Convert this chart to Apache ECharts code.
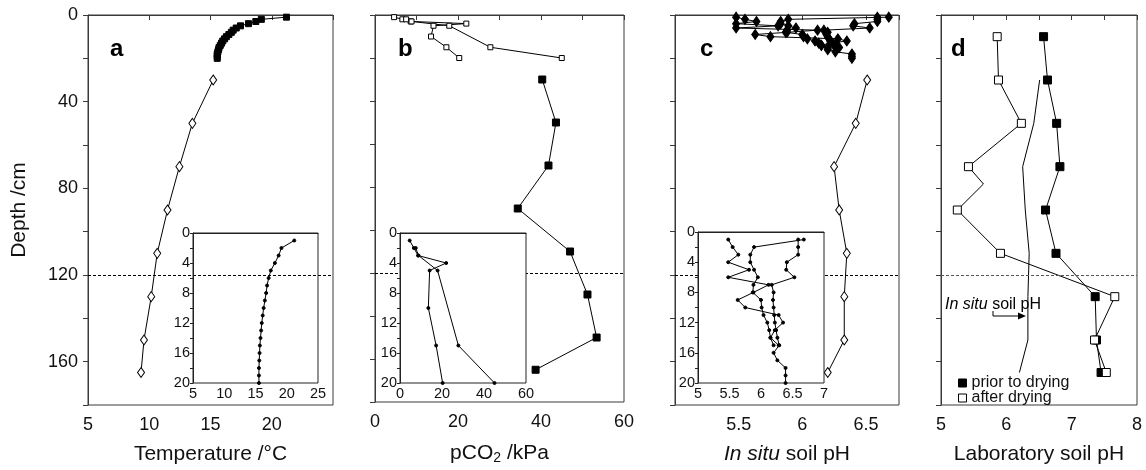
<!DOCTYPE html>
<html><head><meta charset="utf-8">
<script src="https://cdn.jsdelivr.net/npm/echarts@6/dist/echarts.min.js"></script>
<style>html,body{margin:0;padding:0;background:#fff}#c{width:1146px;height:470px}</style>
</head><body><div id="c"></div>
<script>
// ---------- data ----------
const depthTop = [1,2,3,4,5,6,7,8,9,10,11,12,13,14,15,16,17,18,19,20];
const tempTop = [21.2,19.15,18.7,18.1,17.45,17.1,16.85,16.7,16.5,16.3,16.15,16.0,15.9,15.8,15.7,15.65,15.6,15.55,15.55,15.55];
const depthDeep = [30,50,70,90,110,130,150,165];
const tempDeep = [15.22,13.52,12.46,11.49,10.65,10.16,9.57,9.33];

const pco2Deep = [40.3,43.6,41.8,34.4,47.0,51.2,53.4,38.7];
const pco2DepthA = [1,2,3,4,5,10,15,20];
const pco2A = [4.6,6.6,8.6,22.0,14.1,13.5,17.2,20.3];
const pco2DepthB = [2,3,5,15,20];
const pco2B = [7.5,8.8,17.9,27.8,45.0];

const phDepthAB = [1,2,3,4,5,6,7,8,9,10,11,12,13,14,15];
const phTopA = [5.48,5.55,5.64,5.48,5.81,5.48,6.12,5.88,5.63,5.75,6.28,6.35,6.22,6.15,6.20];
const phTopB = [6.68,5.89,5.83,5.83,5.89,5.95,5.88,5.87,6.00,6.01,6.04,6.10,6.13,6.15,6.28];
const phDepthC = [1,2,3,4,5,6,7,8,9,10,11,12,13,14,15,16,17,18,19,20];
const phTopC = [6.59,6.59,6.59,6.41,6.40,6.53,6.17,6.20,6.19,6.20,6.21,6.22,6.24,6.26,6.29,6.20,6.26,6.39,6.39,6.39];
const phDeep = [6.51,6.42,6.25,6.29,6.35,6.33,6.33,6.20];

const labDepth = [10,30,50,70,90,110,130,150,165];
const labPrior = [6.57,6.63,6.77,6.82,6.60,6.76,7.36,7.38,7.45];
const labAfterDepth = [10,30,50,70,78,90,110,130,150,165];
const labAfter = [5.86,5.88,6.23,5.42,5.65,5.25,5.91,7.66,7.35,7.53];
const labAfterNoMarker = [78];

const refDepth = 120;
const xTitles = ['Temperature /°C', '{n|pCO}{s|2}{n| /kPa}', '{i|In situ}{n| soil pH}', 'Laboratory soil pH'];
const yTitle = 'Depth /cm';
const panelLetters = ['a','b','c','d'];

// ---------- helpers ----------
const F = '"Liberation Sans", Arial, Helvetica, sans-serif';
const AX = '#3a3a3a';
const pairs = (xs, ys) => xs.map((x, i) => [x, ys[i]]);
const isMult = (v, m) => Math.abs(v / m - Math.round(v / m)) < 1e-6;

const mainTop = 15, mainH = 392;
const grids = [
  {left: 88, top: mainTop, width: 245, height: mainH},
  {left: 375, top: mainTop, width: 249, height: mainH},
  {left: 675, top: mainTop, width: 224, height: mainH},
  {left: 941, top: mainTop, width: 196, height: mainH},
  {left: 193, top: 233, width: 125, height: 150, z: 1},
  {left: 400, top: 233, width: 126, height: 150, z: 8},
  {left: 698, top: 232, width: 126, height: 151, z: 8}
].map((g, i) => Object.assign({
  show: true, containLabel: false,
  borderColor: i < 4 ? AX : '#222', borderWidth: 1,
  backgroundColor: i < 4 ? 'transparent' : '#fff'
}, g));

const TF = 18, NF = 21, IF = 14.5;
function mainX(gi, min, max, interval, fmt, name, minor) {
  return {
    type: 'value', gridIndex: gi, min, max, interval, position: 'bottom',
    axisLine: {show: true, lineStyle: {color: AX, width: 1}},
    axisTick: {show: true, inside: false, length: 5, lineStyle: {color: AX, width: 1}},
    minorTick: {show: !!minor, splitNumber: 2, length: 5, lineStyle: {color: AX, width: 1}},
    splitLine: {show: false},
    axisLabel: {fontSize: TF, fontFamily: F, color: '#111', margin: 11, formatter: fmt,
      showMinLabel: true, showMaxLabel: true},
    name, nameLocation: 'middle', nameGap: 39,
    nameTextStyle: {fontSize: NF, fontFamily: F, color: '#111',
      rich: {n: {fontSize: NF, fontFamily: F, color: '#111'},
             s: {fontSize: 14, fontFamily: F, color: '#111', padding: [10, 0, 0, 0]},
             i: {fontSize: NF, fontFamily: F, color: '#111', fontStyle: 'italic'}}}
  };
}
function mainY(gi, showLabels) {
  return {
    type: 'value', gridIndex: gi, min: 0, max: 180, interval: 20, inverse: true,
    axisLine: {show: true, lineStyle: {color: AX, width: 1}},
    axisTick: {show: true, inside: false, length: 5, lineStyle: {color: AX, width: 1}},
    splitLine: {show: false},
    axisLabel: {show: showLabels, fontSize: TF, fontFamily: F, color: '#111', margin: 10,
      formatter: v => isMult(v, 40) ? String(v) : ''},
    name: showLabels ? yTitle : '', nameLocation: 'middle', nameGap: 58,
    nameTextStyle: {fontSize: NF, fontFamily: F, color: '#111'}
  };
}
function insetX(gi, min, max, interval) {
  return {
    type: 'value', gridIndex: gi, min, max, interval, z: 9,
    axisLine: {show: true, lineStyle: {color: '#222', width: 1}},
    axisTick: {show: false},
    splitLine: {show: false},
    axisLabel: {fontSize: IF, fontFamily: F, color: '#111', margin: 3, formatter: v => String(v)}
  };
}
function insetY(gi) {
  return {
    type: 'value', gridIndex: gi, min: 0, max: 20, interval: 2, inverse: true, z: 9,
    axisLine: {show: true, lineStyle: {color: '#222', width: 1}},
    axisTick: {show: true, inside: false, length: 3, lineStyle: {color: '#222', width: 1}},
    splitLine: {show: false},
    axisLabel: {fontSize: IF, fontFamily: F, color: '#111', margin: 3,
      formatter: v => isMult(v, 4) ? String(v) : ''}
  };
}

const xAxes = [
  mainX(0, 5, 25, 5, v => v >= 25 ? '' : String(v), xTitles[0], false),
  mainX(1, 0, 60, 20, v => String(v), xTitles[1], true),
  mainX(2, 5, 6.76, 0.5, v => (v <= 5 || !isMult(v, 0.5)) ? '' : String(v), xTitles[2], false),
  mainX(3, 5, 8, 1, v => String(v), xTitles[3], true),
  insetX(4, 5, 25, 5),
  insetX(5, 0, 60, 20),
  insetX(6, 5, 7, 0.5)
];
const yAxes = [mainY(0, true), mainY(1, false), mainY(2, false), mainY(3, false), insetY(4), insetY(5), insetY(6)];

const BL = '#000';
function refLine(color) {
  return {silent: true, symbol: ['none', 'none'], label: {show: false},
    lineStyle: {type: [3, 2], color, width: 1}, data: [{yAxis: refDepth}]};
}
function ln(gi, data, symbol, size, fill, extra) {
  return Object.assign({
    type: 'line', xAxisIndex: gi, yAxisIndex: gi, data, symbol, symbolSize: size,
    showSymbol: true, animation: false,
    lineStyle: {color: BL, width: 1},
    itemStyle: {color: fill, borderColor: BL, borderWidth: 1},
    emphasis: {disabled: true}
  }, extra || {});
}
const inset = {z: 10};

const series = [
  ln(0, pairs(tempTop, depthTop), 'rect', 6, BL),
  ln(0, pairs(tempDeep, depthDeep), 'diamond', [7, 10], '#fff', {markLine: refLine('#000')}),
  ln(1, pairs(pco2Deep, depthDeep), 'rect', 7, BL, {markLine: refLine('#000')}),
  ln(1, pairs(pco2A, pco2DepthA), 'rect', 5, '#fff'),
  ln(1, pairs(pco2B, pco2DepthB), 'rect', 5, '#fff'),
  ln(2, pairs(phDeep, depthDeep), 'diamond', [7, 10], '#fff', {markLine: refLine('#000')}),
  ln(2, pairs(phTopA, phDepthAB), 'diamond', [7, 10], BL),
  ln(2, pairs(phTopB, phDepthAB), 'diamond', [7, 10], BL),
  ln(2, pairs(phTopC, phDepthC), 'diamond', [7, 10], BL),
  ln(3, pairs(labPrior, labDepth), 'rect', 8, BL, {name: 'prior to drying', markLine: refLine('#555')}),
  ln(3, pairs(labAfter, labAfterDepth).map(p => labAfterNoMarker.includes(p[1]) ? {value: p, symbol: 'none'} : p),
     'rect', 8, '#fff', {name: 'after drying'}),
  ln(3, pairs(phDeep, depthDeep), 'none', 0, BL),
  ln(4, pairs(tempTop, depthTop), 'circle', 3, BL, inset),
  ln(5, pairs(pco2A, pco2DepthA), 'circle', 3, BL, inset),
  ln(5, pairs(pco2B, pco2DepthB), 'circle', 3, BL, inset),
  ln(6, pairs(phTopA, phDepthAB), 'circle', 3, BL, inset),
  ln(6, pairs(phTopB, phDepthAB), 'circle', 3, BL, inset),
  ln(6, pairs(phTopC, phDepthC), 'circle', 3, BL, inset)
];

const letterPos = [110, 398, 700, 951];
const graphic = panelLetters.map((t, i) => ({
  type: 'text', left: letterPos[i], top: 37, z: 20,
  style: {text: t, font: 'bold 24px ' + F, fill: '#000'}
}));
graphic.push({
  type: 'text', x: 945, y: 305, z: 20,
  style: {text: '{i|In situ}{n| soil pH}', verticalAlign: 'middle',
    rich: {i: {fontStyle: 'italic', fontSize: 16, fontFamily: F, fill: '#000'},
           n: {fontSize: 16, fontFamily: F, fill: '#000'}}}
});
graphic.push({type: 'polyline', z: 20, shape: {points: [[993, 311], [993, 316], [1019, 316]]},
  style: {stroke: '#000', lineWidth: 1, fill: null}});
graphic.push({type: 'polygon', z: 20, shape: {points: [[1018, 312.5], [1026, 316], [1018, 319.5]]},
  style: {fill: '#000'}});

const option = {
  animation: false,
  backgroundColor: '#fff',
  grid: grids,
  xAxis: xAxes,
  yAxis: yAxes,
  series,
  legend: {
    data: [
      {name: 'prior to drying', icon: 'rect', itemStyle: {color: '#000', borderColor: '#000', borderWidth: 1}},
      {name: 'after drying', icon: 'rect', itemStyle: {color: '#fff', borderColor: '#000', borderWidth: 1}}
    ],
    orient: 'vertical', left: 958, top: 375, itemWidth: 8, itemHeight: 8, itemGap: -1,
    selectedMode: false, padding: 0,
    textStyle: {fontSize: 16, fontFamily: F, color: '#111'}
  },
  graphic
};
const chart = echarts.init(document.getElementById('c'));
chart.setOption(option);
</script>
</body></html>
